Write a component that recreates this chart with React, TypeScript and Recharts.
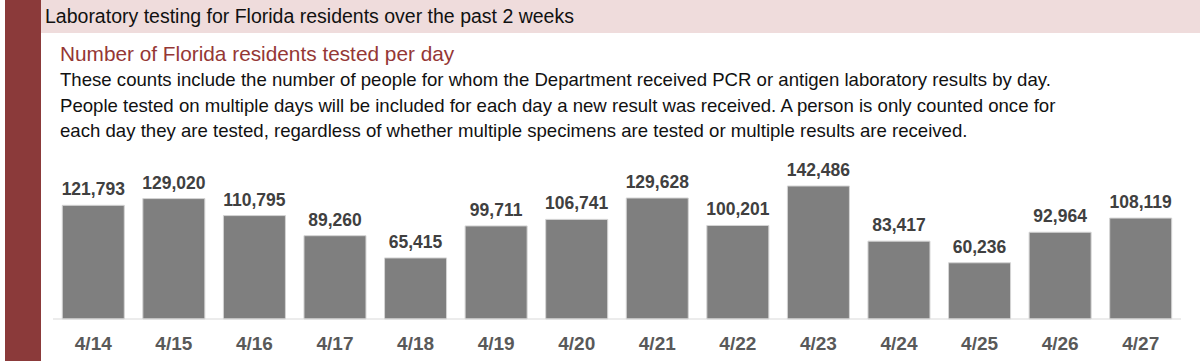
import React from "react";
import { BarChart, Bar, XAxis, YAxis, LabelList } from "recharts";

// Florida residents tested per day, last two weeks
const DATES = ["4/14", "4/15", "4/16", "4/17", "4/18", "4/19", "4/20", "4/21", "4/22", "4/23", "4/24", "4/25", "4/26", "4/27"];
const TESTED = [121793, 129020, 110795, 89260, 65415, 99711, 106741, 129628, 100201, 142486, 83417, 60236, 92964, 108119];
const EDGE_TICKS = DATES.map((_, i) => i).concat(DATES.length);

const HEADER = "Laboratory testing for Florida residents over the past 2 weeks";
const SUBTITLE = "Number of Florida residents tested per day";
const NOTE_LINES = [
  "These counts include the number of people for whom the Department received PCR or antigen laboratory results by day.",
  "People tested on multiple days will be included for each day a new result was received. A person is only counted once for",
  "each day they are tested, regardless of whether multiple specimens are tested or multiple results are received.",
];

const rows = DATES.map((d, i) => ({ date: d, tested: TESTED[i] }));

const TEXT_FONT = "'Liberation Sans', Arial, sans-serif";

const fmt = (v: number) => v.toLocaleString("en-US");

export default function App() {
  return (
    <div
      style={{
        position: "absolute",
        left: 0,
        top: 0,
        width: 1200,
        height: 361,
        background: "#fff",
        overflow: "hidden",
        fontFamily: TEXT_FONT,
      }}
    >
      <div style={{ position: "absolute", left: 5, top: 0, width: 36, height: 361, background: "#8b3a3a" }} />
      <div style={{ position: "absolute", left: 41, top: 0, width: 1159, height: 33, background: "#efdcdc" }} />
      <div style={{ position: "absolute", left: 45, top: 5, fontSize: 19.5, color: "#111", whiteSpace: "nowrap" }}>
        {HEADER}
      </div>
      <div style={{ position: "absolute", left: 60, top: 42, fontSize: 20.8, color: "#953735", whiteSpace: "nowrap" }}>
        {SUBTITLE}
      </div>
      {NOTE_LINES.map((line, i) => (
        <div
          key={i}
          style={{ position: "absolute", left: 60, top: 69 + i * 25.5, fontSize: 18.6, color: "#111", whiteSpace: "nowrap" }}
        >
          {line}
        </div>
      ))}
      <div style={{ position: "absolute", left: 0, top: 140 }}>
        <BarChart
          width={1200}
          height={221}
          data={rows}
          margin={{ top: 39, right: 19, bottom: 0, left: 53 }}
          barCategoryGap="11.5%"
        >
          {/* boundary ticks between days, drawn on a plain 0..14 axis */}
          <XAxis
            xAxisId="a_edges"
            type="number"
            domain={[0, DATES.length]}
            ticks={EDGE_TICKS}
            tick={false}
            height={1}
            axisLine={{ stroke: "#d9d9d9" }}
            tickLine={{ stroke: "#d9d9d9" }}
            tickSize={6}
            allowDataOverflow
          />
          <XAxis
            xAxisId="b_days"
            dataKey="date"
            height={41}
            axisLine={false}
            tickLine={false}
            tickSize={0}
            tickMargin={17}
            tick={{ fill: "#595959", fontSize: 19, fontWeight: 700, fontFamily: TEXT_FONT }}
            interval={0}
          />
          <YAxis hide domain={[0, 150000]} />
          <Bar
            xAxisId="b_days"
            dataKey="tested"
            fill="#7f7f7f"
            stroke="#d4d4d4"
            strokeWidth={1}
            isAnimationActive={false}
          >
            <LabelList
              dataKey="tested"
              position="top"
              offset={10}
              formatter={(v: any) => fmt(Number(v))}
              style={{ fill: "#404040", fontSize: 17.5, fontWeight: 700, fontFamily: TEXT_FONT }}
            />
          </Bar>
        </BarChart>
      </div>
    </div>
  );
}
